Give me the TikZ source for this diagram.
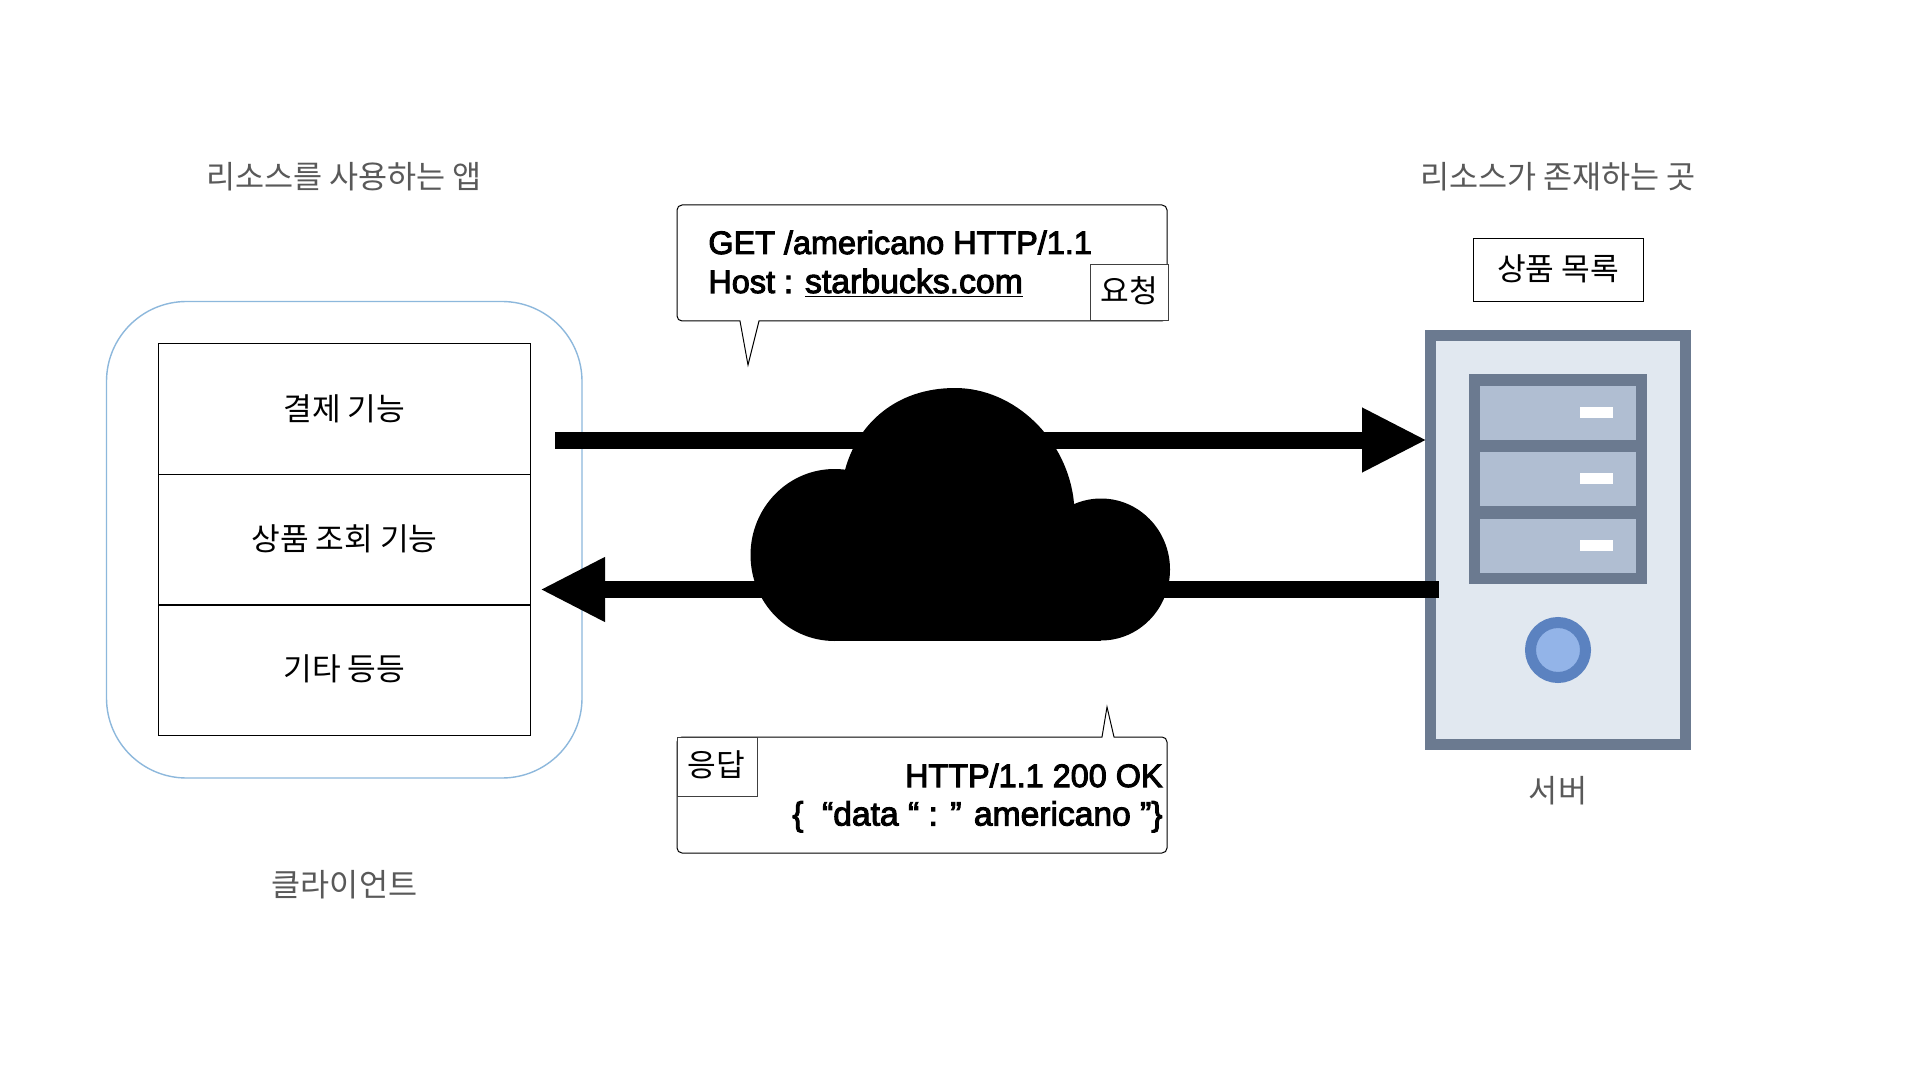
\documentclass[tikz,border=0pt]{standalone}
\usepackage{fontspec}
\setmainfont{Liberation Sans}
\newfontfamily\krfont{Noto Sans CJK KR}[Script=Hangul]
\newfontfamily\httpfont{Liberation Sans}
\newcommand{\heavytext}[1]{\special{pdf:code q 2 Tr 0.5 w 0 0 0 RG}#1\special{pdf:code Q}}
\usetikzlibrary{arrows.meta}
\definecolor{graytext}{HTML}{595959}
\definecolor{srvline}{HTML}{6B7A90}
\definecolor{srvfill}{HTML}{E1E8F0}
\definecolor{bayfill}{HTML}{B0BED2}
\definecolor{ledline}{HTML}{5B82C0}
\definecolor{ledfill}{HTML}{93B4E8}
\definecolor{clientline}{HTML}{8DB8DC}
\tikzset{
  krlabel/.style={font=\krfont\fontsize{15.6}{18}\selectfont,anchor=base,inner sep=0pt},
  graylabel/.style={krlabel,font=\krfont\fontsize{15.8}{18}\selectfont,text=graytext},
  cellbox/.style={draw=black,line width=0.5pt,minimum width=186pt,minimum height=65pt,inner sep=0pt},
  tagbox/.style={draw=black!75,line width=0.5pt,fill=white,inner sep=0pt},
  httptext/.style={font=\httpfont\fontsize{16.2}{18}\selectfont,inner sep=0pt},
  bubble/.style={draw=black,line width=0.5pt,fill=white,line join=miter},
  flowarrow/.style={line width=8.5pt,-{Triangle[length=32.5pt,width=30pt]},black},
  srvbox/.style={draw=srvline,line width=5.5pt,inner sep=0pt},
  bay/.style={fill=bayfill,draw=none,inner sep=0pt,minimum width=78pt,minimum height=27pt},
  pill/.style={fill=white,draw=none,inner sep=0pt,minimum width=16.5pt,minimum height=5.5pt}
}
\begin{document}
\begin{tikzpicture}[x=0.5pt,y=-0.5pt]
\useasboundingbox[fill=white] (0,0) rectangle (1920,1080);

% client
\draw[clientline,line width=0.7pt,rounded corners=40pt] (106.5,301.5) rectangle (582,778);
\node[cellbox] (payment) at (344,409) {};
\node[cellbox] (lookup) at (344,539.5) {};
\node[cellbox] (etc) at (344,670) {};
\node[krlabel] (paytext) at (344.5,420) {결제 기능};
\node[krlabel] (looktext) at (344.5,550) {상품 조회 기능};
\node[krlabel] (etctext) at (344.5,680) {기타 등등};
\node[graylabel] (usetitle) at (344,188.5) {리소스를 사용하는 앱};
\node[graylabel] (clienttitle) at (344.5,896) {클라이언트};

% server
\fill[srvfill] (1425,330) rectangle (1691,750);
\node[srvbox,minimum width=127.5pt,minimum height=204.5pt] (server) at (1558,540) {};
\node[fill=srvline,inner sep=0pt,minimum width=89pt,minimum height=105pt] (rack) at (1558,479) {};
\node[bay] (bay1) at (1558,413) {};
\node[bay] (bay2) at (1558,479) {};
\node[bay] (bay3) at (1558,545.5) {};
\node[pill] (led1) at (1596.5,412.5) {};
\node[pill] (led2) at (1596.5,478.5) {};
\node[pill] (led3) at (1596.5,545.5) {};
\node[circle,draw=ledline,fill=ledfill,line width=5.5pt,minimum size=27.5pt,inner sep=0pt] (power) at (1558,650) {};
\node[draw=black,line width=0.5pt,inner sep=0pt,minimum width=85pt,minimum height=31.5pt] (listbox) at (1558,270.5) {};
\node[krlabel] (listtext) at (1558,281) {상품 목록};
\node[graylabel] (restitle) at (1558,188.5) {리소스가 존재하는 곳};
\node[graylabel] (srvtitle) at (1558,802) {서버};

% arrows
\coordinate (reqstart) at (555,440);
\coordinate (reqend) at (1427,440);
\coordinate (resstart) at (1439,589.5);
\coordinate (resend) at (540,589.5);
\draw[flowarrow] (reqstart) -- (reqend);
\draw[flowarrow] (resstart) -- (resend);

% cloud
\fill[black] (845,560) -- (845,470) .. controls (857,425) and (895,388) .. (955,388)
  .. controls (1015,388) and (1068,440) .. (1074,503) -- (1074,560) -- cycle;
\fill[black] (834.5,555) ellipse[x radius=42pt,y radius=43pt]
  (1101,569.5) ellipse[x radius=34.5pt,y radius=35.5pt];
\fill[black] (834.5,560) rectangle (1101,640.5);

% request bubble
\draw[bubble] (740,321) [sharp corners] -- (748,365) -- (759,321) [rounded corners=2.5pt] -- (1167,321) -- (1167,205) -- (677,205) -- (677,321) [sharp corners] -- cycle;
\node[httptext,anchor=base west] (req1) at (708,254) {\heavytext{GET /americano HTTP/1.1}};
\node[httptext,anchor=base west] (req2) at (708,293) {\heavytext{Host : \underline{{\fontsize{16.9}{18}\selectfont starbucks.com}}}};
\node[tagbox,minimum width=39pt,minimum height=28pt] (reqtag) at (1129,293) {};
\node[krlabel] (reqlabel) at (1129,303) {요청};

% response bubble
\draw[bubble] (1102,737) [sharp corners] -- (1107,707) -- (1114,737) [rounded corners=2.5pt] -- (1167,737) -- (1167,853) -- (677,853) -- (677,737) [sharp corners] -- cycle;
\node[httptext,anchor=base east] (res1) at (1163,787) {\heavytext{HTTP/1.1 200 OK}};
\node[httptext,font=\httpfont\fontsize{16.8}{18}\selectfont,anchor=base east] (res2) at (1163,825.5) {\heavytext{\{\ \ “data “ : ” americano ”\}}};
\node[tagbox,minimum width=40pt,minimum height=29.5pt] (restag) at (717,766.5) {};
\node[krlabel] (reslabel) at (716.5,776) {응답};
\end{tikzpicture}
\end{document}
